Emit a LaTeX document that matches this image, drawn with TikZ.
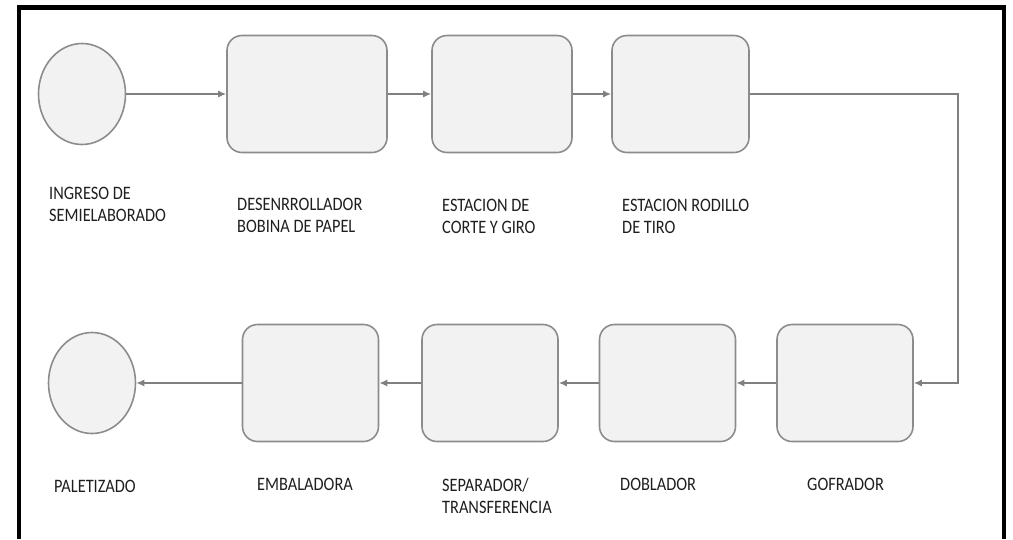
\documentclass[tikz,border=0pt]{standalone}
\usepackage{fontspec}
\setmainfont{Carlito}[FakeStretch=0.86]
\usetikzlibrary{arrows.meta,shapes.geometric}
\definecolor{pfBox}{HTML}{F2F2F2}
\definecolor{pfLine}{HTML}{8C8C8C}
\definecolor{pfFlow}{HTML}{808080}
\definecolor{pfText}{HTML}{1E1E1E}
\tikzset{
  pfnode/.style={draw=pfLine, line width=1.6pt, fill=pfBox, inner sep=0pt},
  station/.style={pfnode, rounded corners=15pt, minimum width=#1, minimum height=117pt},
  station/.default=136pt,
  terminal/.style={pfnode, ellipse, minimum width=87pt, minimum height=101pt},
  flow/.style={-{Latex[length=8pt,width=7pt]}, line width=1.5pt, pfFlow},
  tag/.style={font=\fontsize{19}{22}\selectfont, text=pfText, align=left, anchor=base west, inner sep=0pt},
  frame/.style={line width=4.5pt, black}
}
\begin{document}
\begin{tikzpicture}[x=1pt,y=-1pt]
  \useasboundingbox (0,0) rectangle (1013,539);
  \draw[frame] (19,539) -- (19,7.5) -- (1004,7.5) -- (1004,539);
  % top row
  \node[terminal] (ingreso) at (82,94) {};
  \node[station=160pt] (desenrrollador) at (307,94) {};
  \node[station=140pt] (corte) at (502,94) {};
  \node[station=137pt] (rodillo) at (680.5,94) {};
  \coordinate (turn) at (958,94);
  % bottom row
  \foreach \n/\x in {gofrador/845, doblador/667.5, separador/490, embaladora/310.5}{
    \node[station] (\n) at (\x,383) {};
  }
  \node[terminal] (paletizado) at (92,383) {};
  % connectors
  \foreach \a/\b in {ingreso/desenrrollador, desenrrollador/corte, corte/rodillo,
    gofrador/doblador, doblador/separador, separador/embaladora, embaladora/paletizado}{
    \draw[flow] (\a) -- (\b);
  }
  \draw[flow] (rodillo) -- (turn) |- (gofrador);
  % labels (base = last line)
  \node[tag] (lblIngreso) at (49,221) {INGRESO DE\\SEMIELABORADO};
  \node[tag] (lblDesenrrollador) at (237,232) {DESENRROLLADOR\\BOBINA DE PAPEL};
  \node[tag] (lblCorte) at (442,233) {ESTACION DE\\CORTE Y GIRO};
  \node[tag] (lblRodillo) at (622,233) {ESTACION RODILLO\\DE TIRO};
  \node[tag] (lblPaletizado) at (54,492) {PALETIZADO};
  \node[tag] (lblEmbaladora) at (257,490) {EMBALADORA};
  \node[tag] (lblSeparador) at (442,513) {SEPARADOR/\\TRANSFERENCIA};
  \node[tag] (lblDoblador) at (620,490) {DOBLADOR};
  \node[tag] (lblGofrador) at (807,490) {GOFRADOR};
\end{tikzpicture}
\end{document}
